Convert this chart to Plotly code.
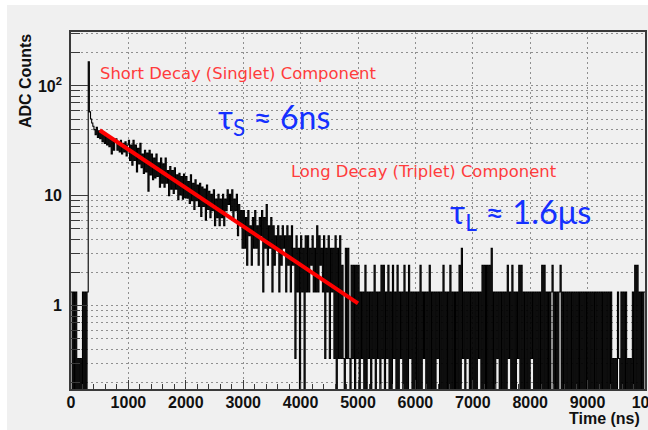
import numpy as np
import plotly.graph_objects as go

# ADC histogram, 20 ns bins from 0 to 10000 ns (values per bin)
bin_width_ns = 20

counts_0_1000 = [1.33, 0, 1.33, 0, 1.33, 0, .33, 0, .33, 0,
                 1.33, 0, 1.33, 0, 1.33, 166, 58, 50, 46, 43,
                 40, 36, 42, 34, 39, 33, 38, 31, 37, 30,
                 36, 29, 35, 28, 34, 24, 33, 26, 32, 33,
                 26, 31, 25, 32, 24, 30, 25, 31, 23, 29]
counts_1000_2000 = [32, 21, 29, 19, 32, 21, 29, 16.5, 27, 19.5,
                    30, 18, 24, 16, 26, 16.5, 24.5, 11, 26, 15.5,
                    24, 14, 22, 14.5, 24, 15, 20, 12, 22, 13,
                    19.5, 12, 22, 13, 17, 10, 18.5, 11.5, 17, 10.5,
                    18, 11.5, 15.5, 9.2, 16, 10.2, 15, 9.3, 15.8, 9.6]
counts_2000_3000 = [15, 9.5, 13.5, 8.5, 15.5, 9, 13, 7.5, 14, 9,
                    12.5, 8, 13, 6.5, 12, 8, 11.5, 6, 12.5, 7.5,
                    11, 6.33, 10.33, 7.33, 11.33, 5.33, 9.33, 6.33, 10.33, 5.33,
                    9.33, 6.33, 10.33, 5.33, 9.33, 7.33, 11.33, 8.33, 10.33, 7.33,
                    11.33, 6.33, 9.33, 7.33, 10.33, 4.33, 8.33, 5.33, 7.33, 3.33]
counts_3000_4000 = [7.33, 3.33, 6.33, 2.33, 7.33, 4.33, 5.33, 2.33, 6.33, 3.33,
                    7.33, 3.33, 5.33, 2.33, 6.33, 4.33, 7.33, 1.33, 6.33, 3.33,
                    8.33, 2.33, 5.33, 3.33, 6.33, 1.33, 5.33, 2.33, 4.33, 3.33,
                    5.33, 1.33, 4.33, 2.33, 5.33, 3.33, 4.33, 1.33, 5.33, 2.33,
                    4.33, 1.33, 5.33, 2.33, 3.33, .33, 4.33, 1.33, 3.33, 0]
counts_4000_5000 = [4.33, 1.33, 3.33, 0, 4.33, 1.33, 4.33, 1.33, 3.33, 2.33,
                    4.33, 1.33, 3.33, 1.33, 5.33, 1.33, 4.33, 2.33, 3.33, 1.33,
                    4.33, .33, 3.33, 1.33, 4.33, .33, 3.33, 1.33, 3.33, .33,
                    4.33, 0, 3.33, .33, 4.33, .33, 2.33, .33, 0, 3.33,
                    .33, 3.33, .33, 0, 2.33, .33, 2.33, 0, 2.33, .33]
counts_5000_6000 = [2.33, 0, 1.33, .33, 1.33, 0, 2.33, 0, 1.33, .33,
                    1.33, 0, 1.33, .33, 2.33, 0, 1.33, .33, 1.33, 0,
                    2.33, .33, 2.33, 0, 1.33, .33, 2.33, 0, 1.33, 0,
                    2.33, .33, 1.33, 0, 2.33, 0, 1.33, .33, 1.33, 0,
                    2.33, 0, 1.33, 0, 2.33, .33, 1.33, 0, 1.33, 0]
counts_6000_7000 = [1.33, 0, 1.33, 0, 2.33, 0, 1.33, .33, 1.33, 0,
                    1.33, 0, 2.33, 0, 1.33, 0, 1.33, 0, 1.33, .33,
                    1.33, 0, 1.33, 0, 2.33, 0, 1.33, 0, 1.33, 0,
                    2.33, 0, 1.33, 0, 1.33, 0, 1.33, 0, 2.33, 0,
                    3.33, .33, 1.33, 0, 1.33, .33, 1.33, 0, 1.33, 0]
counts_7000_8000 = [1.33, 0, 1.33, 0, 1.33, .33, 1.33, 0, 2.33, 0,
                    2.33, 0, 2.33, 0, 2.33, 0, 3.33, 0, 1.33, 0,
                    1.33, .33, 1.33, 0, 1.33, 0, 1.33, 0, 1.33, 0,
                    2.33, .33, 1.33, 0, 2.33, 0, 1.33, 0, 1.33, .33,
                    2.33, 0, 2.33, 0, 1.33, 0, 1.33, 0, 1.33, 0]
counts_8000_9000 = [1.33, .33, 1.33, 0, 1.33, 0, 1.33, 0, 1.33, 0,
                    2.33, 0, 2.33, 0, 1.33, 0, 1.33, 0, 1.33, 2.33,
                    0, 1.33, 0, 1.33, 0, 1.33, 2.33, 0, 1.33, 0,
                    1.33, 0, 1.33, 0, 1.33, 0, 1.33, 0, 1.33, 0,
                    1.33, 0, 1.33, 0, 1.33, 0, 1.33, 0, 1.33, 0]
counts_9000_10000 = [1.33, 0, 1.33, 0, 1.33, 0, 1.33, 0, 1.33, 0,
                     1.33, 0, 1.33, 0, 1.33, 0, 1.33, 0, 1.33, 0,
                     1.33, 0, .33, 0, .33, 0, 1.33, .33, 0, 1.33,
                     0, 1.33, 0, 1.33, 0, .33, 0, .33, 0, 1.33,
                     0, 2.33, 0, 2.33, 0, 1.33, 0, 1.33, 0, 1.33]

# exponential fit of the long (triplet) component, end points
fit_time_ns = [500, 5000]
fit_counts = [39.5, 1.05]

# axis ticks
x_tick_vals = [0, 1000, 2000, 3000, 4000, 5000, 6000, 7000, 8000, 9000, 10000]
y_tick_vals = [1, 10, 100]
y_tick_text = ["1", "10", "10<sup>2</sup>"]

counts = np.array(counts_0_1000 + counts_1000_2000 + counts_2000_3000 +
                  counts_3000_4000 + counts_4000_5000 + counts_5000_6000 +
                  counts_6000_7000 + counts_7000_8000 + counts_8000_9000 +
                  counts_9000_10000, dtype=float)
edges = np.arange(len(counts) + 1) * bin_width_ns
step_y = np.append(counts, counts[-1])
# empty bins are drawn down to the bottom of the log frame
step_y = np.where(step_y > 0, step_y, 1e-3)

BG = "#f0f0f0"
FRAME = "#3a3a3a"
GRID = "#8f8f8f"
TICKFONT = dict(family="Liberation Sans", size=16, color="#111111", weight=700)

fig = go.Figure()
fig.add_trace(go.Scatter(
    x=edges, y=step_y, mode="lines",
    line=dict(shape="hv", color="black", width=1.1, simplify=False),
    hoverinfo="skip", showlegend=False))
fig.add_trace(go.Scatter(
    x=fit_time_ns, y=fit_counts, mode="lines",
    line=dict(color="#ff0000", width=4),
    hoverinfo="skip", showlegend=False))

minor_y = [m * 10.0 ** e for e in (-1, 0, 1, 2) for m in range(2, 10)]

fig.update_xaxes(
    range=[0, 10000], tickvals=x_tick_vals, ticks="inside", ticklen=9,
    tickcolor=FRAME, tickwidth=1, tickfont=TICKFONT, ticklabelstandoff=-2,
    ticklabeloverflow="allow",
    showline=True, linecolor=FRAME, linewidth=1.6, mirror=True,
    showgrid=True, gridcolor=GRID, gridwidth=1, griddash="2px,3px",
    zeroline=False,
    minor=dict(dtick=200, ticks="inside", ticklen=5, tickcolor=FRAME, showgrid=False),
)
fig.update_yaxes(
    type="log", range=[-0.759, 2.491], tickvals=y_tick_vals, ticktext=y_tick_text,
    ticks="inside", ticklen=17, tickcolor=FRAME, tickwidth=1, tickfont=TICKFONT,
    showline=True, linecolor=FRAME, linewidth=1.6, mirror=True,
    showgrid=True, gridcolor=GRID, gridwidth=1, griddash="2px,3px",
    zeroline=False, ticklabelstandoff=4,
    minor=dict(tickvals=minor_y, ticks="inside", ticklen=9, tickcolor=FRAME,
               showgrid=True, gridcolor=GRID, gridwidth=1, griddash="2px,3px"),
)

RED = "#ff3c3c"
BLUE = "#1430ff"
ann = [
    dict(x=470, y=np.log10(128.5), text="Short Decay (Singlet) Component",
         font=dict(family="DejaVu Sans", size=16.4, color=RED)),
    dict(x=3800, y=np.log10(16.5), text="Long Decay (Triplet) Component",
         font=dict(family="DejaVu Sans", size=16.4, color=RED)),
    dict(x=2520, y=np.log10(49.5), text="τ<sub>S</sub> ≈ 6ns",
         font=dict(family="Lato", size=32, color=BLUE)),
    dict(x=6570, y=np.log10(6.85), text="τ<sub>L</sub> ≈ 1.6μs",
         font=dict(family="Lato", size=32.5, color=BLUE)),
]
for a in ann:
    fig.add_annotation(xref="x", yref="y", xanchor="left", yanchor="middle",
                       showarrow=False, **a)

fig.add_annotation(xref="paper", yref="paper", x=-0.080, y=1.0,
                   xanchor="center", yanchor="top", textangle=-90,
                   text="ADC Counts", showarrow=False,
                   font=dict(family="Liberation Sans", size=16, color="#111111", weight=700))
fig.add_annotation(xref="paper", yref="paper", x=0.994, y=-0.082,
                   xanchor="right", yanchor="middle",
                   text="Time (ns)", showarrow=False,
                   font=dict(family="Liberation Sans", size=16, color="#111111", weight=700))

# thin white border around the canvas
fig.add_shape(type="rect", xref="paper", yref="paper", x0=-0.2, x1=-0.1115,
              y0=-0.3, y1=1.3, fillcolor="white", line_width=0, layer="below")
fig.add_shape(type="rect", xref="paper", yref="paper", x0=-0.2, x1=1.2,
              y0=1.0755, y1=1.3, fillcolor="white", line_width=0, layer="below")

fig.update_layout(
    width=648, height=430,
    margin=dict(l=71, r=3, t=32, b=41, autoexpand=False),
    paper_bgcolor=BG, plot_bgcolor=BG,
    showlegend=False,
)

fig.write_html("out.html", include_plotlyjs=True)
